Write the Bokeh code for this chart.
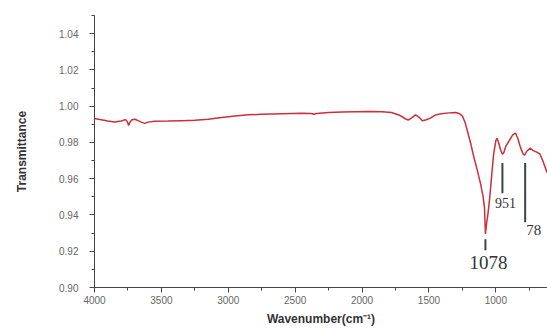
from bokeh.plotting import figure
from bokeh.models import Range1d, Label, FixedTicker, PrintfTickFormatter
from bokeh.embed import file_html
from bokeh.resources import INLINE

# ---- data ----
wavenumber = [4000, 3950, 3900, 3850, 3800, 3770, 3755, 3745, 3735, 3720, 3700, 3680,
              3650, 3625, 3600, 3550, 3450, 3350, 3250, 3150, 3050, 2950, 2850, 2750,
              2600, 2450, 2380, 2360, 2340, 2250, 2150, 2050, 1950, 1850, 1780, 1720,
              1680, 1655, 1630, 1600, 1575, 1550, 1520, 1490, 1450, 1410, 1350, 1300,
              1270, 1250, 1230, 1215, 1190, 1165, 1140, 1115, 1095, 1085, 1078, 1068,
              1060, 1045, 1030, 1016, 1000, 991, 980, 965, 951, 940, 925, 900, 875, 853,
              835, 815, 795, 785, 770, 745, 720, 690, 670, 650, 620, 600]
transmittance = [0.9932, 0.9925, 0.9918, 0.9913, 0.9918, 0.9926, 0.9915, 0.9893, 0.9912,
                 0.9925, 0.9928, 0.9922, 0.9912, 0.9905, 0.9912, 0.9917, 0.9918, 0.9920,
                 0.9922, 0.9928, 0.9937, 0.9946, 0.9952, 0.9955, 0.9958, 0.9961, 0.9960,
                 0.9955, 0.9960, 0.9965, 0.9968, 0.9969, 0.9970, 0.9969, 0.9965, 0.9950,
                 0.9932, 0.9923, 0.9935, 0.9952, 0.9940, 0.9920, 0.9925, 0.9934, 0.9952,
                 0.9958, 0.9963, 0.9965, 0.9958, 0.9945, 0.9910, 0.9869, 0.9800, 0.9721,
                 0.9650, 0.9574, 0.9500, 0.9440, 0.9295, 0.9360, 0.9400, 0.9500, 0.9630,
                 0.9740, 0.9810, 0.9823, 0.9800, 0.9760, 0.9735, 0.9745, 0.9780, 0.9810,
                 0.9840, 0.9852, 0.9820, 0.9770, 0.9735, 0.9730, 0.9750, 0.9768, 0.9755,
                 0.9745, 0.9735, 0.9700, 0.9640, 0.9610]

peak_positions = [1078, 951, 781]
peak_labels = ["1078", "951", "78"]
marker_top = [0.9266, 0.9686, 0.9686]
marker_bottom = [0.9205, 0.9520, 0.9360]
label_top = [0.9172, 0.9493, 0.9343]
label_size = ["19px", "14px", "15px"]

x_ticks = [4000, 3500, 3000, 2500, 2000, 1500, 1000]
y_ticks = [0.90, 0.92, 0.94, 0.96, 0.98, 1.00, 1.02, 1.04]

p = figure(width=547, height=328, output_backend="svg", toolbar_location=None,
           x_range=Range1d(4000, 614), y_range=Range1d(0.90, 1.05),
           min_border_left=94, min_border_right=0, min_border_top=15, min_border_bottom=41)
p.outline_line_color = None
p.xgrid.visible = False
p.ygrid.visible = False
p.background_fill_color = "white"

p.line(wavenumber, transmittance, line_color="#cc2f3a", line_width=1.5)

# peak markers
p.segment(x0=peak_positions, y0=marker_top, x1=peak_positions, y1=marker_bottom,
          line_color="#3c463e", line_width=2)

for pos, txt, top, size in zip(peak_positions, peak_labels, label_top, label_size):
    p.add_layout(Label(x=pos, y=top, text=txt, text_font="Liberation Serif",
                       text_font_size=size, text_color="#333333",
                       text_align="center" if txt != "78" else "left",
                       text_baseline="top",
                       x_offset=3 if txt != "78" else 1))

p.xaxis.ticker = FixedTicker(ticks=x_ticks, minor_ticks=list(range(4000, 600, -250)))
p.yaxis.ticker = FixedTicker(ticks=y_ticks, minor_ticks=[round(0.90 + 0.01 * i, 2) for i in range(16)])
p.yaxis.formatter = PrintfTickFormatter(format="%.2f")

for ax in (p.xaxis[0], p.yaxis[0]):
    ax.axis_line_color = "#444444"
    ax.major_tick_line_color = "#444444"
    ax.minor_tick_line_color = "#444444"
    ax.major_tick_in = 0
    ax.major_tick_out = 5
    ax.minor_tick_in = 0
    ax.minor_tick_out = 3
    ax.major_label_text_font = "Liberation Sans"
    ax.major_label_text_font_size = "10px"
    ax.major_label_text_color = "#666666"
    ax.axis_label_text_font = "Liberation Sans"
    ax.axis_label_text_font_style = "bold"
    ax.axis_label_text_color = "#333333"

p.xaxis.axis_label = "Wavenumber(cm\u207b\u00b9)"
p.xaxis.axis_label_text_font_size = "12px"
p.xaxis.major_label_standoff = 3
p.xaxis.axis_label_standoff = 5
p.yaxis.axis_label = "Transmittance"
p.yaxis.axis_label_text_font_size = "12px"
p.yaxis.major_label_standoff = 11
p.yaxis.axis_label_standoff = 27

open("out.html", "w").write(file_html(p, INLINE))
